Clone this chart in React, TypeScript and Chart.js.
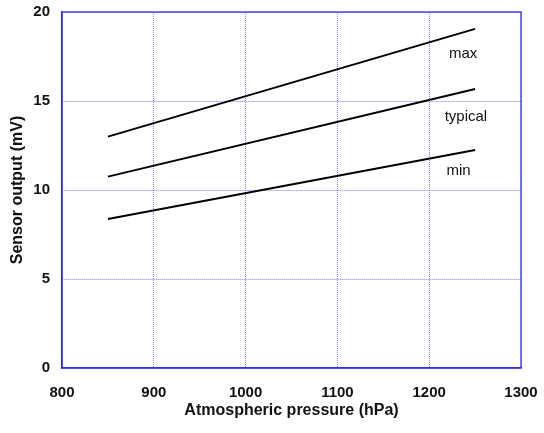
import React, { useEffect, useRef } from "react";
import { Chart, registerables } from "chart.js";

Chart.register(...registerables);

const pressures = [850, 1250];
const maxValues = [13.0, 19.05];
const typicalValues = [10.75, 15.67];
const minValues = [8.37, 12.25];
const curveLabels = ["max", "typical", "min"];
const labelX = [1237, 1240, 1232];
const labelY = [17.42, 13.89, 10.84];
const xTicks = [800, 900, 1000, 1100, 1200, 1300];
const yTicks = [0, 5, 10, 15, 20];

const FONT = "'Liberation Sans', Arial, sans-serif";

const framePlugin = {
  id: "frame",
  afterDatasetsDraw(chart: any) {
    const { ctx, chartArea, scales } = chart;
    ctx.save();
    ctx.strokeStyle = "#3030e6";
    ctx.lineWidth = 1.3;
    ctx.strokeRect(chartArea.left, chartArea.top, chartArea.right - chartArea.left, chartArea.bottom - chartArea.top);
    ctx.fillStyle = "#111";
    ctx.font = `15px ${FONT}`;
    ctx.textAlign = "center";
    ctx.textBaseline = "alphabetic";
    curveLabels.forEach((t, i) => {
      ctx.fillText(t, scales.x.getPixelForValue(labelX[i]), scales.y.getPixelForValue(labelY[i]));
    });
    ctx.restore();
  },
};

export default function App() {
  const ref = useRef<HTMLCanvasElement>(null);
  useEffect(() => {
    const mk = (vals: number[]) => pressures.map((p, i) => ({ x: p, y: vals[i] }));
    const ds = (label: string, vals: number[]) => ({
      label,
      data: mk(vals),
      showLine: true,
      borderColor: "#000",
      borderWidth: 2,
      pointRadius: 0,
      fill: false,
    });
    const chart = new Chart(ref.current!, {
      type: "scatter",
      data: {
        datasets: [ds("max", maxValues), ds("typical", typicalValues), ds("min", minValues)],
      },
      options: {
        animation: false,
        responsive: false,
        layout: { padding: { top: 12, right: 23, left: 0, bottom: 0 } },
        plugins: { legend: { display: false }, tooltip: { enabled: false } },
        scales: {
          x: {
            type: "linear",
            min: 800,
            max: 1300,
            afterBuildTicks: (s: any) => {
              s.ticks = xTicks.map((v) => ({ value: v }));
            },
            afterFit: (s: any) => {
              s.height = 65;
              s.paddingLeft = 0;
              s.paddingRight = 0;
              s.paddingTop = 0;
              s.paddingBottom = 0;
            },
            ticks: {
              color: "#111",
              font: { family: FONT, size: 15, weight: "bold" },
              padding: 16,
              maxRotation: 0,
              callback: (v: any) => String(v),
            },
            grid: { color: "#7c7cf6", lineWidth: 1, drawTicks: false },
            border: { color: "#3030e6", width: 1.3, dash: [1, 1] },
            title: {
              display: true,
              text: "Atmospheric pressure (hPa)",
              color: "#111",
              font: { family: FONT, size: 16, weight: "bold" },
              padding: { top: 0, bottom: 13 },
            },
          },
          y: {
            type: "linear",
            min: 0,
            max: 20,
            afterBuildTicks: (s: any) => {
              s.ticks = yTicks.map((v) => ({ value: v }));
            },
            afterFit: (s: any) => {
              s.width = 62;
              s.paddingLeft = 0;
              s.paddingRight = 0;
              s.paddingTop = 0;
              s.paddingBottom = 0;
            },
            ticks: {
              color: "#111",
              font: { family: FONT, size: 15, weight: "bold" },
              padding: 12,
              callback: (v: any) => String(v),
            },
            grid: { color: "#7c7cf6", lineWidth: 1, drawTicks: false },
            border: { color: "#3030e6", width: 1.3, dash: [1, 1] },
            title: {
              display: true,
              text: "Sensor output (mV)",
              color: "#111",
              font: { family: FONT, size: 16, weight: "bold" },
              padding: { top: 8, bottom: 0 },
            },
          },
        },
      },
      plugins: [framePlugin],
    });
    return () => chart.destroy();
  }, []);
  return (
    <div style={{ position: "fixed", left: 0, top: 0, width: 544, height: 433, background: "#fff" }}>
      <canvas ref={ref} width={544} height={433} style={{ width: 544, height: 433 }} />
    </div>
  );
}
